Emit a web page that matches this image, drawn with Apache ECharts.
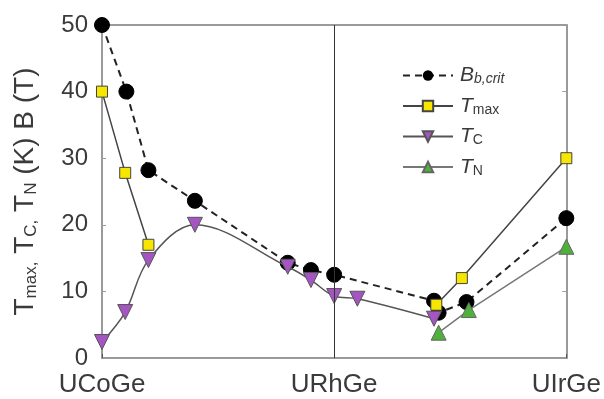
<!DOCTYPE html>
<html>
<head>
<meta charset="utf-8">
<script src="https://cdn.jsdelivr.net/npm/echarts@6/dist/echarts.min.js"></script>
<style>
  html, body { margin: 0; padding: 0; background: #fff; }
  #chart { width: 604px; height: 399px; }
</style>
</head>
<body>
<div id="chart"></div>
<script>
// compounds along the x axis (0 = UCoGe, 1 = URhGe, 2 = UIrGe)
const compounds = ['UCoGe', 'URhGe', 'UIrGe']

// B_b,crit (T)
const bbX = [0, 0.105, 0.2, 0.4, 0.8, 0.9, 1.0, 1.43, 1.45, 1.57, 2.0]
const bbY = [50, 40, 28.2, 23.6, 14.3, 13.2, 12.5, 8.6, 6.8, 8.4, 21]

// T_max (K), gap between the Co and Ir sides
const tmaxX = [0, 0.1, 0.2, null, 1.44, 1.55, 2.0]
const tmaxY = [40, 27.8, 17, null, 8.0, 12, 30]

// T_C (K)
const tcX = [0, 0.1, 0.2, 0.4, 0.8, 0.9, 1.0, 1.1, 1.43]
const tcY = [2.4, 6.9, 14.7, 20, 13.7, 11.7, 9.3, 8.9, 5.9]

// T_N (K)
const tnX = [1.45, 1.58, 2.0]
const tnY = [3.8, 7.2, 16.7]

const yTicks = [0, 10, 20, 30, 40, 50]

const pairs = (xs, ys) => xs.map((x, i) => (x === null ? [null, null] : [x, ys[i]]))

const chart = echarts.init(document.getElementById('chart'), null, { renderer: 'canvas' })

const axisGray = '#9a9a9a'
const textColor = '#3a3a3a'
const font = 'Liberation Sans, Arial, sans-serif'

const option = {
  animation: false,
  textStyle: { fontFamily: font },
  grid: { left: 102, right: 27, top: 25, bottom: 41 },
  legend: {
    orient: 'vertical',
    left: 397,
    top: 60,
    itemWidth: 50,
    itemHeight: 13,
    itemGap: 9,
    textStyle: {
      color: textColor,
      fontFamily: font,
      rich: {
        i: { fontSize: 21, fontStyle: 'italic', color: textColor, padding: [0, 0, 0, 2] },
        s: { fontSize: 14, color: textColor, verticalAlign: 'bottom', padding: [8, 0, 0, 0] },
        si: { fontSize: 14, fontStyle: 'italic', color: textColor, verticalAlign: 'bottom', padding: [8, 0, 0, 0] }
      }
    },
    formatter: (name) => {
      if (name === 'Bb') return '{i|B}{si|b,crit}'
      if (name === 'Tmax') return '{i|T}{s|max}'
      if (name === 'TC') return '{i|T}{s|C}'
      return '{i|T}{s|N}'
    },
    data: ['Bb', 'Tmax', 'TC', 'TN']
  },
  xAxis: [
    {
      type: 'value',
      min: 0,
      max: 2,
      interval: 1,
      axisLine: { show: true, onZero: false, lineStyle: { color: axisGray, width: 2 } },
      axisTick: { show: true, inside: true, length: 4, lineStyle: { color: '#555' } },
      splitLine: { show: false },
      axisLabel: {
        fontSize: 26,
        color: textColor,
        margin: 14,
        formatter: (v) => compounds[Math.round(v)]
      }
    },
    {
      type: 'value',
      position: 'top',
      min: 0,
      max: 2,
      axisLine: { show: true, onZero: false, lineStyle: { color: axisGray, width: 2 } },
      axisTick: { show: false },
      axisLabel: { show: false },
      splitLine: { show: false }
    }
  ],
  yAxis: [
    {
      type: 'value',
      min: yTicks[0],
      max: yTicks[yTicks.length - 1],
      interval: 10,
      axisLine: { show: true, onZero: false, lineStyle: { color: axisGray, width: 2 } },
      axisTick: { show: true, inside: true, length: 4, lineStyle: { color: axisGray } },
      splitLine: { show: false },
      axisLabel: { fontSize: 24, color: textColor, margin: 14 },
      name: '{t|T}{s|max,}{t| T}{s|C,}{t| T}{s|N}{t| (K) B (T)}',
      nameLocation: 'middle',
      nameGap: 62,
      nameTextStyle: {
        rich: {
          t: { fontSize: 28, color: textColor, fontFamily: font },
          s: { fontSize: 17, color: textColor, fontFamily: font, verticalAlign: 'bottom', padding: [12, 0, 0, 0] }
        }
      }
    },
    {
      type: 'value',
      position: 'right',
      min: 0,
      max: 50,
      interval: 10,
      axisLine: { show: true, onZero: false, lineStyle: { color: axisGray, width: 2 } },
      axisTick: { show: true, inside: true, length: 4, lineStyle: { color: axisGray } },
      axisLabel: { show: false },
      splitLine: { show: false }
    }
  ],
  series: [
    {
      name: 'Bb',
      type: 'line',
      data: pairs(bbX, bbY),
      symbol: 'circle',
      symbolSize: 15,
      itemStyle: { color: '#000', borderColor: '#000' },
      lineStyle: { color: '#222', width: 2, type: [7, 5] },
      z: 2,
      markLine: {
        silent: true,
        symbol: 'none',
        label: { show: false },
        lineStyle: { color: '#333', width: 1, type: 'solid' },
        data: [{ xAxis: 1 }]
      }
    },
    {
      name: 'Tmax',
      type: 'line',
      data: pairs(tmaxX, tmaxY),
      connectNulls: false,
      symbol: 'rect',
      symbolSize: 11,
      itemStyle: { color: '#f7e600', borderColor: '#444', borderWidth: 1 },
      lineStyle: { color: '#444', width: 1.5 },
      z: 3
    },
    {
      name: 'TC',
      type: 'line',
      data: pairs(tcX, tcY),
      smooth: 0.35,
      symbol: 'triangle',
      symbolRotate: 180,
      symbolSize: 15,
      itemStyle: { color: '#a455c2', borderColor: '#555', borderWidth: 1 },
      lineStyle: { color: '#555', width: 1.5 },
      z: 4
    },
    {
      name: 'TN',
      type: 'line',
      data: pairs(tnX, tnY),
      symbol: 'triangle',
      symbolSize: 15,
      itemStyle: { color: '#4fb03c', borderColor: '#666', borderWidth: 1 },
      lineStyle: { color: '#777', width: 1.5 },
      z: 5
    }
  ]
}

chart.setOption(option)
</script>
</body>
</html>
